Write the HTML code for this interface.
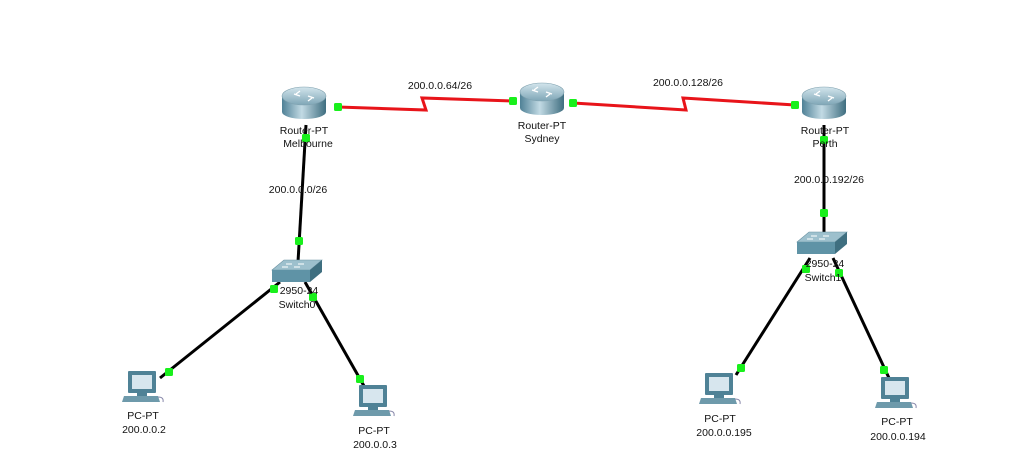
<!DOCTYPE html>
<html><head><meta charset="utf-8"><style>
html,body{margin:0;padding:0;background:#fff;width:1018px;height:476px;overflow:hidden}
svg text{font-family:"Liberation Sans","DejaVu Sans",sans-serif;font-size:10.5px;fill:#111;text-anchor:middle}
</style></head><body>
<svg width="1018" height="476" viewBox="0 0 1018 476" xmlns="http://www.w3.org/2000/svg">
<defs>
<linearGradient id="rb" x1="0" x2="1" y1="0" y2="0">
<stop offset="0" stop-color="#4f8196"/><stop offset="0.45" stop-color="#c2dae4"/><stop offset="1" stop-color="#3f6e80"/></linearGradient>
<linearGradient id="rt" x1="0" x2="0" y1="0" y2="1">
<stop offset="0" stop-color="#d3e5ec"/><stop offset="1" stop-color="#7fa6b6"/></linearGradient>
<g id="router">
<rect x="-22" y="-6" width="44" height="16" fill="url(#rb)"/>
<ellipse cx="0" cy="10" rx="22" ry="7" fill="url(#rb)"/>
<ellipse cx="0" cy="-6" rx="22" ry="9" fill="url(#rt)" stroke="#7ea0ae" stroke-width="0.6"/>
<path d="M-10,-8 l6,2 M10,-4 l-6,-2 M-4,-11 l-4,3 M4,-1 l4,-3" stroke="#fff" stroke-width="1.4"/>
</g>
<g id="switch">
<polygon points="-24,-3 -12,-13 26,-13 14,-3" fill="#9dc0cd" stroke="#6b93a3" stroke-width="0.6"/>
<rect x="-24" y="-3" width="38" height="12" fill="#5f93a6"/>
<polygon points="14,-3 26,-13 26,-1 14,9" fill="#3f6f80"/>
<path d="M-10,-9 h6 M2,-9 h6 M-14,-6 h6 M-2,-6 h6" stroke="#fff" stroke-width="1"/>
</g>
<g id="pc">
<rect x="-14" y="-17" width="28" height="22" fill="#4f8296" rx="1"/>
<rect x="-10" y="-13" width="20" height="14" fill="#d7e6ee"/>
<rect x="-5" y="5" width="10" height="3" fill="#4f8296"/>
<polygon points="-18,8 16,8 18,14 -20,14" fill="#6e9aab"/>
<path d="M16,9 q6,0 5,5" stroke="#88a" fill="none" stroke-width="1"/>
</g>
</defs>
<polyline points="338,107 426,110 422,98 513,101" fill="none" stroke="#e8141a" stroke-width="3"/>
<polyline points="573,103 686,110 683,98 795,105" fill="none" stroke="#e8141a" stroke-width="3"/>
<g stroke="#000" stroke-width="3">
<line x1="306" y1="125" x2="298" y2="262"/>
<line x1="824" y1="125" x2="824" y2="235"/>
<line x1="280" y1="282" x2="160" y2="378"/>
<line x1="305" y1="282" x2="364" y2="386"/>
<line x1="810" y1="258" x2="736" y2="375"/>
<line x1="833" y1="258" x2="889" y2="378"/>
</g>
<use href="#router" x="304" y="102"/>
<use href="#router" x="542" y="98"/>
<use href="#router" x="824" y="102"/>
<use href="#switch" x="296" y="273"/>
<use href="#switch" x="821" y="245"/>
<use href="#pc" x="142" y="388"/>
<use href="#pc" x="373" y="402"/>
<use href="#pc" x="719" y="390"/>
<use href="#pc" x="895" y="394"/>
<g fill="#19f01c">
<rect x="334" y="103" width="8" height="8" rx="1.5"/>
<rect x="509" y="97" width="8" height="8" rx="1.5"/>
<rect x="569" y="99" width="8" height="8" rx="1.5"/>
<rect x="791" y="101" width="8" height="8" rx="1.5"/>
<rect x="302" y="134" width="8" height="8" rx="1.5"/>
<rect x="295" y="237" width="8" height="8" rx="1.5"/>
<rect x="820" y="136" width="8" height="8" rx="1.5"/>
<rect x="820" y="209" width="8" height="8" rx="1.5"/>
<rect x="270" y="285" width="8" height="8" rx="1.5"/>
<rect x="309" y="293" width="8" height="8" rx="1.5"/>
<rect x="165" y="368" width="8" height="8" rx="1.5"/>
<rect x="356" y="375" width="8" height="8" rx="1.5"/>
<rect x="802" y="265" width="8" height="8" rx="1.5"/>
<rect x="835" y="269" width="8" height="8" rx="1.5"/>
<rect x="737" y="364" width="8" height="8" rx="1.5"/>
<rect x="880" y="366" width="8" height="8" rx="1.5"/>
</g>
<text x="440" y="89">200.0.0.64/26</text>
<text x="688" y="86">200.0.0.128/26</text>
<text x="298" y="193">200.0.0.0/26</text>
<text x="829" y="183">200.0.0.192/26</text>
<text x="304" y="134">Router-PT</text><text x="308" y="147">Melbourne</text>
<text x="542" y="129">Router-PT</text><text x="542" y="142">Sydney</text>
<text x="825" y="134">Router-PT</text><text x="825" y="147">Perth</text>
<text x="299" y="294">2950-24</text><text x="297" y="308">Switch0</text>
<text x="825" y="267">2950-24</text><text x="823" y="281">Switch1</text>
<text x="143" y="419">PC-PT</text><text x="144" y="433">200.0.0.2</text>
<text x="374" y="434">PC-PT</text><text x="375" y="448">200.0.0.3</text>
<text x="720" y="422">PC-PT</text><text x="724" y="436">200.0.0.195</text>
<text x="897" y="425">PC-PT</text><text x="898" y="440">200.0.0.194</text>
</svg>
</body></html>
